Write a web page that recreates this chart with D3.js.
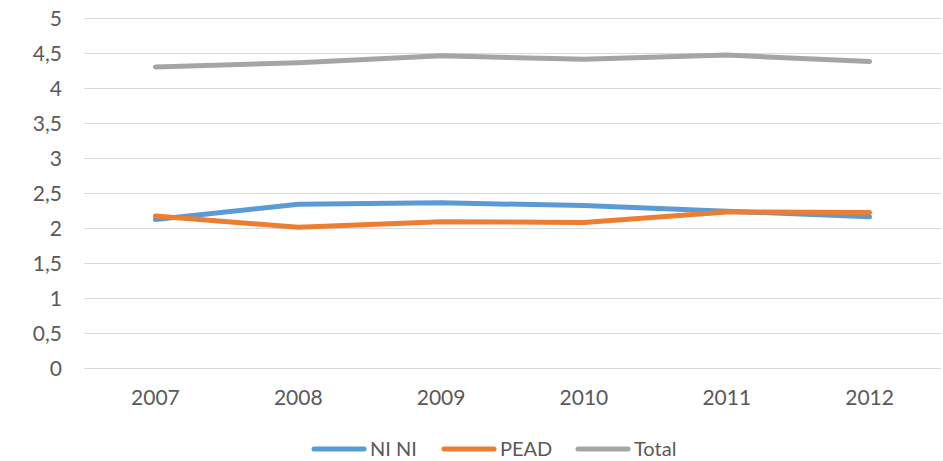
<!DOCTYPE html>
<html>
<head>
<meta charset="utf-8">
<script src="https://cdn.jsdelivr.net/npm/d3@7"></script>
<style>
  body { margin: 0; background: #fff; }
  text { font-family: Lato, "Open Sans", sans-serif; fill: #595959; }
</style>
</head>
<body>
<div id="chart"></div>
<script>
// data
const years = ['2007', '2008', '2009', '2010', '2011', '2012'];
const niNi = [2.12, 2.34, 2.36, 2.32, 2.24, 2.16];
const pead = [2.17, 2.01, 2.09, 2.08, 2.23, 2.22];
const total = [4.30, 4.36, 4.46, 4.41, 4.47, 4.38];
const yTicks = [0, 0.5, 1, 1.5, 2, 2.5, 3, 3.5, 4, 4.5, 5];

const series = [
    { name: 'NI NI', values: niNi, color: '#5b9bd5' },
    { name: 'PEAD', values: pead, color: '#ed7d31' },
    { name: 'Total', values: total, color: '#a5a5a5' }
];

const width = 943, height = 461;
const margin = { top: 18, right: 2, bottom: 93, left: 84 };
const innerW = width - margin.left - margin.right;
const innerH = height - margin.top - margin.bottom;

const svg = d3.select('#chart')
    .append('svg')
    .attr('width', width)
    .attr('height', height);

const g = svg.append('g')
    .attr('transform', `translate(${margin.left}, ${margin.top})`);

// scales
const xScale = d3.scaleBand()
    .domain(years)
    .range([0, innerW]);

const yScale = d3.scaleLinear()
    .domain([0, 5])
    .range([innerH, 0]);

// gridlines
g.selectAll('.grid')
    .data(yTicks)
    .join('line')
    .attr('class', 'grid')
    .attr('x1', 0)
    .attr('x2', innerW)
    .attr('y1', d => yScale(d) + 0.5)
    .attr('y2', d => yScale(d) + 0.5)
    .attr('stroke', '#d9d9d9')
    .attr('stroke-width', 1);

// y axis
const yAxis = d3.axisLeft(yScale)
    .tickValues(yTicks)
    .tickSize(0)
    .tickPadding(22)
    .tickFormat(d => String(d).replace('.', ','));

g.append('g')
    .attr('class', 'y-axis')
    .call(yAxis)
    .call(a => a.select('.domain').remove())
    .selectAll('text')
    .style('font-size', '21px')
    .attr('dy', '0.35em');

// x axis
const xAxis = d3.axisBottom(xScale).tickSize(0).tickPadding(22);

g.append('g')
    .attr('class', 'x-axis')
    .attr('transform', `translate(0, ${innerH})`)
    .call(xAxis)
    .call(a => a.select('.domain').remove())
    .selectAll('text')
    .style('font-size', '21px');

// lines
const line = d3.line()
    .x((d, i) => xScale(years[i]) + xScale.bandwidth() / 2)
    .y(d => yScale(d));

g.selectAll('.series')
    .data(series)
    .join('path')
    .attr('class', 'series')
    .attr('fill', 'none')
    .attr('stroke', d => d.color)
    .attr('stroke-width', 5)
    .attr('stroke-linecap', 'round')
    .attr('stroke-linejoin', 'round')
    .attr('d', d => line(d.values));

// legend
const legendX = [314, 444, 578];
const legend = svg.append('g').attr('class', 'legend');

const item = legend.selectAll('.item')
    .data(series)
    .join('g')
    .attr('class', 'item')
    .attr('transform', (d, i) => `translate(${legendX[i]}, 449)`);

item.append('line')
    .attr('x1', 0)
    .attr('x2', 50)
    .attr('stroke', d => d.color)
    .attr('stroke-width', 5)
    .attr('stroke-linecap', 'round');

item.append('text')
    .attr('x', 56)
    .attr('dy', '0.35em')
    .style('font-size', '20px')
    .text(d => d.name);
</script>
</body>
</html>
